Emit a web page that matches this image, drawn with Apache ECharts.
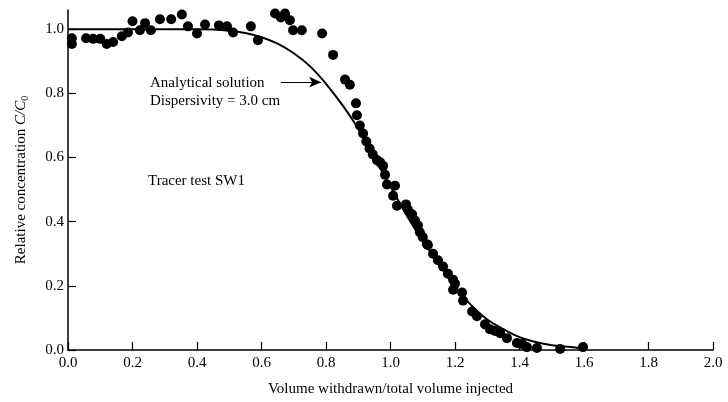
<!DOCTYPE html>
<html><head><meta charset="utf-8">
<script src="https://cdn.jsdelivr.net/npm/echarts@6/dist/echarts.min.js"></script>
<style>html,body{margin:0;padding:0;background:#fff}#c{width:728px;height:402px}</style>
</head><body><div id="c"></div>
<script>
// Measured tracer data (x: volume withdrawn / total volume injected, y: C/C0)
var obsX = [0.012,0.012,0.056,0.078,0.10,0.12,0.14,0.167,0.186,0.20,0.223,0.239,0.257,0.285,0.32,0.353,0.372,0.40,0.425,0.468,0.493,0.512,0.567,0.589,
  0.642,0.66,0.673,0.688,0.698,0.725,0.788,0.822,0.859,0.874,0.893,0.896,
  0.905,0.915,0.925,0.935,0.945,0.958,0.968,0.977,0.983,0.989,1.008,1.014,1.02,1.048,1.054,1.067,1.076,1.085,1.091,1.10,1.113,1.116,1.132,1.147,1.163,1.178,1.194,1.20,1.194,1.222,1.225,
  1.253,1.268,1.293,1.308,1.324,1.34,1.361,1.392,1.408,1.423,1.454,1.526,1.597];
var obsY = [0.972,0.954,0.972,0.970,0.970,0.954,0.960,0.978,0.990,1.025,0.997,1.019,0.997,1.031,1.031,1.046,1.009,0.987,1.015,1.012,1.009,0.990,1.009,0.966,
  1.049,1.037,1.049,1.028,0.997,0.997,0.987,0.920,0.843,0.827,0.769,0.732,
  0.700,0.675,0.650,0.628,0.610,0.592,0.585,0.574,0.546,0.516,0.481,0.512,0.450,0.454,0.438,0.423,0.404,0.389,0.367,0.352,0.330,0.327,0.300,0.280,0.260,0.238,0.219,0.207,0.188,0.179,0.154,
  0.120,0.105,0.080,0.065,0.059,0.052,0.037,0.022,0.019,0.009,0.006,0.003,0.009];
// Analytical solution, dispersivity = 3.0 cm
var fitX = [0,0.1,0.2,0.3,0.4,0.45,0.5,0.55,0.6,0.65,0.7,0.75,0.8,0.85,0.9,0.95,1.0,1.05,1.1,1.15,1.2,1.25,1.3,1.35,1.4,1.45,1.5,1.55,1.6];
var fitY = [1,1,1,1,1,0.999,0.995,0.988,0.975,0.955,0.925,0.885,0.83,0.765,0.69,0.60,0.51,0.42,0.34,0.27,0.20,0.14,0.095,0.065,0.04,0.025,0.015,0.01,0.005];
var yTicks = [0,0.2,0.4,0.6,0.8,1.0];

var font = 'Liberation Serif';
var chart = echarts.init(document.getElementById('c'), null, {renderer:'canvas'});
chart.setOption({
  animation:false,
  backgroundColor:'#fff',
  grid:{left:68,right:15,top:10,bottom:48},
  xAxis:{type:'value',min:0,max:2,interval:0.2,
    name:'Volume withdrawn/total volume injected',nameLocation:'middle',nameGap:32,
    nameTextStyle:{fontFamily:font,fontSize:15,color:'#000'},
    axisLine:{lineStyle:{color:'#000',width:1.5}},
    axisTick:{inside:true,length:8,lineStyle:{color:'#000',width:1.2}},
    axisLabel:{fontFamily:font,fontSize:15,color:'#000',margin:6,formatter:function(v){return v.toFixed(1);}},
    splitLine:{show:false}},
  yAxis:{type:'value',min:0,max:1.06,
    name:'{n|Relative concentration }{i|C/C}{s|0}',nameLocation:'middle',nameGap:38,nameRotate:90,
    nameTextStyle:{fontFamily:font,fontSize:15,color:'#000',
      rich:{n:{fontFamily:font,fontSize:15,color:'#000'},
            i:{fontFamily:font,fontSize:15,fontStyle:'italic',color:'#000'},
            s:{fontFamily:font,fontSize:10,color:'#000',padding:[8,0,0,0]}}},
    axisLine:{lineStyle:{color:'#000',width:1.5}},
    axisTick:{inside:true,length:8,customValues:yTicks,lineStyle:{color:'#000',width:1.2}},
    axisLabel:{fontFamily:font,fontSize:15,color:'#000',margin:4,customValues:yTicks,formatter:function(v){return v.toFixed(1);}},
    splitLine:{show:false}},
  graphic:[
    {type:'text',left:150,top:76,style:{text:'Analytical solution',font:'15px "Liberation Serif"',fill:'#000'}},
    {type:'text',left:150,top:94,style:{text:'Dispersivity = 3.0 cm',font:'15px "Liberation Serif"',fill:'#000'}},
    {type:'text',left:148,top:174,style:{text:'Tracer test SW1',font:'15px "Liberation Serif"',fill:'#000'}}
  ],
  series:[
    {type:'line',data:fitX.map(function(x,i){return [x,fitY[i]];}),smooth:0.4,symbol:'none',
      lineStyle:{color:'#000',width:2},z:2,
      markLine:{silent:true,symbol:['none','arrow'],symbolSize:[8,12],label:{show:false},
        lineStyle:{color:'#000',width:1,type:'solid'},
        data:[[{coord:[0.66,0.835]},{coord:[0.785,0.835]}]]}},
    {type:'scatter',data:obsX.map(function(x,i){return [x,obsY[i]];}),symbol:'circle',symbolSize:10,
      itemStyle:{color:'#000',opacity:1},z:3}
  ]
});
</script></body></html>
